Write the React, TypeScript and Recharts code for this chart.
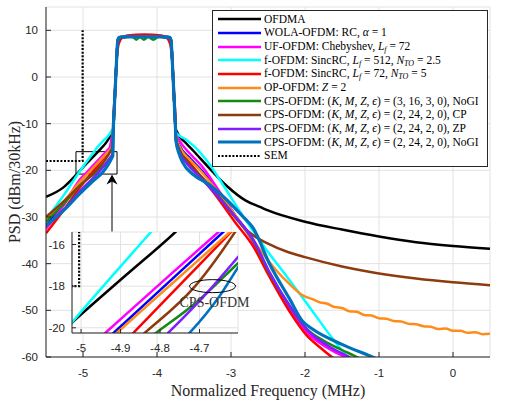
import React from "react";
import {
  LineChart,
  Line,
  XAxis,
  YAxis,
  CartesianGrid,
  Legend,
  ReferenceArea,
  ReferenceLine,
  ReferenceDot,
} from "recharts";

type Pt = [number, number];

// flat top shared by most waveforms
const passband: Pt[] = [
  [-4.59, -11], [-4.575, -6], [-4.56, -1], [-4.545, 4], [-4.53, 7.8], [-4.51, 8.5],
  [-4.4, 8.6], [-4.17, 8.6], [-3.94, 8.6], [-3.83, 8.5], [-3.81, 7.8], [-3.795, 4],
  [-3.78, -1], [-3.765, -6], [-3.75, -11],
];
const passbandRed: Pt[] = [
  [-4.59, -9], [-4.575, -5], [-4.56, 0], [-4.54, 4.5], [-4.52, 7], [-4.48, 8.3],
  [-4.4, 8.9], [-4.17, 9.1], [-3.94, 8.9], [-3.86, 8.3], [-3.82, 7], [-3.8, 4.5],
  [-3.78, 0], [-3.765, -5], [-3.75, -9],
];
const passbandGreen: Pt[] = [
  [-4.59, -11], [-4.575, -6], [-4.56, -1], [-4.545, 4], [-4.53, 7.8], [-4.51, 8.5],
  [-4.4, 8.6], [-4.33, 8.6], [-4.28, 8.0], [-4.23, 8.6], [-4.18, 8.0], [-4.12, 8.6],
  [-4.05, 8.0], [-3.98, 8.6], [-3.83, 8.5], [-3.81, 7.8], [-3.795, 4], [-3.78, -1],
  [-3.765, -6], [-3.75, -11],
];

const ofdmaLeft: Pt[] = [[-5.5, -25.7], [-5.26, -23.6], [-5.1, -21.1], [-5.02, -19.7], [-4.894, -17.6], [-4.761, -15.4], [-4.68, -13.9], [-4.63, -12.6], [-4.6, -11.5]];
const ofdmaRight: Pt[] = [[-3.745, -11.3], [-3.6, -14.3], [-3.51, -15.8], [-3.29, -19.6], [-3.06, -23.3], [-2.8, -26.5], [-2.6, -27.9], [-2.5, -28.6], [-2.0, -31], [-1.5, -32.7], [-1.0, -34.2], [-0.5, -35.4], [0, -36.2], [0.5, -36.8]];

const wolaLeft: Pt[] = [[-5.5, -31.8], [-5.25, -26.8], [-5.05, -22.56], [-4.915, -20.2], [-4.78, -17.84], [-4.64, -15.4], [-4.628, -15.19], [-4.61, -13], [-4.6, -11.8]];
const wolaRight: Pt[] = [[-3.745, -12.5], [-3.7, -14.5], [-3.55, -17.5], [-3.4, -20], [-3.2, -24], [-2.95, -29.5], [-2.7, -35], [-2.48, -42], [-2.21, -49], [-1.98, -54.2], [-1.7, -57.8], [-1.4, -60.3], [-1.3, -61.5]];

const ufLeft: Pt[] = [[-5.5, -32.5], [-5.25, -27.2], [-5.05, -22.14], [-4.936, -20.2], [-4.769, -17.36], [-4.652, -15.4], [-4.64, -15.2], [-4.615, -13.3], [-4.6, -12]];
const ufRight: Pt[] = [[-3.745, -12], [-3.7, -13.5], [-3.55, -16.5], [-3.4, -19], [-3.2, -23.5], [-2.95, -29.5], [-2.7, -35.5], [-2.48, -42.5], [-2.21, -49.5], [-1.98, -54.6], [-1.7, -58], [-1.44, -60.2], [-1.3, -61.5]];

const f512Left: Pt[] = [[-5.5, -30.5], [-5.25, -25.1], [-5.05, -20.35], [-4.823, -15.4], [-4.81, -15.12], [-4.72, -13.6], [-4.64, -12.2], [-4.605, -11.3]];
const f512Right: Pt[] = [[-3.74, -12], [-3.62, -13.3], [-3.5, -14.8], [-3.3, -18.5], [-3.1, -23.3], [-2.9, -28.3], [-2.7, -33], [-2.5, -37.5], [-2.3, -41.6], [-2.0, -48], [-1.62, -56.2], [-1.4, -60.5], [-1.3, -62]];

const f72Left: Pt[] = [[-5.5, -33.5], [-5.25, -28.3], [-5.05, -23.83], [-4.865, -20.2], [-4.74, -17.75], [-4.62, -15.4], [-4.61, -15.2], [-4.6, -13], [-4.594, -11.5]];
const f72Right: Pt[] = [[-3.745, -12.5], [-3.7, -15], [-3.6, -17.5], [-3.45, -20.5], [-3.2, -25.5], [-2.95, -31], [-2.7, -36.3], [-2.48, -42.8], [-2.21, -50.2], [-1.98, -55.3], [-1.8, -57.9], [-1.62, -60.2], [-1.5, -61.5]];

const opLeft: Pt[] = [[-5.5, -30.5], [-5.25, -26.5], [-5.05, -22.62], [-4.907, -20.2], [-4.765, -17.8], [-4.623, -15.4], [-4.613, -15.23], [-4.603, -13.2], [-4.596, -11.8]];
const opRight: Pt[] = [
  [-3.745, -12.5], [-3.7, -14.8], [-3.55, -17.8], [-3.4, -20.3], [-3.2, -24.2], [-2.95, -29.5],
  [-2.7, -35], [-2.5, -39.3], [-2.39, -41.4], [-2.2, -44.5], [-2.03, -46.8], [-1.9, -47.6],
  [-1.8, -48.3], [-1.7, -48.6], [-1.6, -49.3], [-1.5, -49.5], [-1.4, -50.2], [-1.3, -50.3],
  [-1.2, -51], [-1.1, -51.1], [-1, -51.7], [-0.9, -51.8], [-0.8, -52.3], [-0.7, -52.4],
  [-0.6, -52.9], [-0.5, -53], [-0.4, -53.4], [-0.3, -53.5], [-0.2, -54], [-0.1, -53.9],
  [0, -54.4], [0.1, -54.4], [0.2, -54.8], [0.3, -54.7], [0.4, -55.1], [0.5, -55],
];

const cpsNoGi3Left: Pt[] = [[-5.5, -31], [-5.25, -27], [-5.05, -23.4], [-4.807, -20.2], [-4.7, -18.65], [-4.6025, -16.9], [-4.598, -16.82], [-4.594, -13.5]];
const cpsNoGi3Right: Pt[] = [[-3.745, -13], [-3.7, -15.5], [-3.6, -18], [-3.45, -20.8], [-3.2, -25], [-2.95, -29.8], [-2.7, -35], [-2.48, -42], [-2.21, -49], [-1.98, -53.9], [-1.75, -56.5], [-1.5, -58.5], [-1.28, -60.2], [-1.15, -61.5]];

const cpsCpLeft: Pt[] = [[-5.5, -30], [-5.25, -26.5], [-5.05, -23.4], [-4.836, -20.2], [-4.711, -18], [-4.61, -15.4], [-4.603, -15.2], [-4.597, -12.5]];
const cpsCpRight: Pt[] = [[-3.745, -13], [-3.7, -15.5], [-3.58, -18.5], [-3.45, -20.5], [-3.2, -25], [-3.0, -29], [-2.84, -32], [-2.7, -33.9], [-2.5, -35.7], [-2.25, -37.4], [-2.0, -38.6], [-1.5, -40.6], [-1.0, -42.1], [-0.5, -43.2], [0, -44], [0.5, -44.6]];

const cpsZpLeft: Pt[] = [[-5.5, -32], [-5.25, -28.3], [-5.05, -24.6], [-4.777, -20.2], [-4.68, -18.3], [-4.6025, -16.6], [-4.598, -16.5], [-4.594, -13.5]];
const cpsZpRight: Pt[] = [[-3.745, -13.5], [-3.7, -16], [-3.6, -18.5], [-3.45, -21], [-3.2, -25.2], [-2.95, -29.8], [-2.7, -34.8], [-2.48, -41.8], [-2.21, -49], [-1.98, -54], [-1.7, -57.5], [-1.35, -60.5], [-1.25, -61.5]];

const cpsNoGiLeft: Pt[] = [[-5.5, -31.8], [-5.25, -28.4], [-5.05, -25.1], [-4.88, -22.5], [-4.723, -20.2], [-4.65, -18.5], [-4.6025, -17.1], [-4.598, -16.97], [-4.594, -14]];
const cpsNoGiRight: Pt[] = [[-3.745, -13.5], [-3.7, -16.5], [-3.65, -18.4], [-3.51, -20.9], [-3.29, -23.1], [-3.06, -26.3], [-2.84, -29.9], [-2.7, -32.4], [-2.48, -40], [-2.21, -47.5], [-2.03, -52.4], [-1.9, -54], [-1.5, -57.3], [-1.06, -60.2], [-0.95, -61]];

const semMask: Pt[] = [[-5.5, -18], [-5.005, -18], [-5.005, 10]];

const mainXTicks = [-5, -4, -3, -2, -1, 0];
const mainYTicks = [-60, -50, -40, -30, -20, -10, 0, 10];
const insetXTicks = [-5, -4.9, -4.8, -4.7];
const insetYTicks = [-20, -18, -16];

const toRows = (...parts: Pt[][]) => parts.flat().map(([x, y]) => ({ x, y }));

const sans = "Liberation Sans, Arimo, DejaVu Sans, sans-serif";
const serif = "Liberation Serif, Tinos, DejaVu Serif, serif";
const axisColor = "#262626";

const series = [
  { key: "ofdma", color: "#000000", width: 2.5, data: toRows(ofdmaLeft, passband, ofdmaRight), label: <>OFDMA</> },
  { key: "wola", color: "#0000ff", width: 2.5, data: toRows(wolaLeft, passband, wolaRight), label: <>WOLA-OFDM: RC, <i>α</i> = 1</> },
  { key: "uf", color: "#ff00ff", width: 2.5, data: toRows(ufLeft, passband, ufRight), label: <>UF-OFDM: Chebyshev, <i>L</i><sub><i>f</i></sub> = 72</> },
  { key: "f512", color: "#00ffff", width: 2.5, data: toRows(f512Left, passband, f512Right), label: <>f-OFDM: SincRC, <i>L</i><sub><i>f</i></sub> = 512, <i>N</i><sub><i>TO</i></sub> = 2.5</> },
  { key: "f72", color: "#ff0000", width: 2.5, data: toRows(f72Left, passbandRed, f72Right), label: <>f-OFDM: SincRC, <i>L</i><sub><i>f</i></sub> = 72, <i>N</i><sub><i>TO</i></sub> = 5</> },
  { key: "op", color: "#ff8c1a", width: 2.5, data: toRows(opLeft, passband, opRight), label: <>OP-OFDM: <i>Z</i> = 2</> },
  { key: "cps3", color: "#138a13", width: 2.5, data: toRows(cpsNoGi3Left, passbandGreen, cpsNoGi3Right), label: <>CPS-OFDM: (<i>K</i>, <i>M</i>, <i>Z</i>, <i>ϵ</i>) = (3, 16, 3, 0), NoGI</> },
  { key: "cpsCp", color: "#8c3c0c", width: 2.5, data: toRows(cpsCpLeft, passband, cpsCpRight), label: <>CPS-OFDM: (<i>K</i>, <i>M</i>, <i>Z</i>, <i>ϵ</i>) = (2, 24, 2, 0), CP</> },
  { key: "cpsZp", color: "#7f1fff", width: 2.5, data: toRows(cpsZpLeft, passband, cpsZpRight), label: <>CPS-OFDM: (<i>K</i>, <i>M</i>, <i>Z</i>, <i>ϵ</i>) = (2, 24, 2, 0), ZP</> },
  { key: "cpsNoGi", color: "#0072bd", width: 3.2, data: toRows(cpsNoGiLeft, passband, cpsNoGiRight), label: <>CPS-OFDM: (<i>K</i>, <i>M</i>, <i>Z</i>, <i>ϵ</i>) = (2, 24, 2, 0), NoGI</> },
];
const semRows = toRows(semMask);

const XTitle = (props: any) => {
  const vb = props.viewBox || {};
  const cx = (vb.x ?? 46) + (vb.width ?? 444) / 2;
  return (
    <text x={cx} y={396} textAnchor="middle" style={{ fontFamily: serif }} fontSize={16} fill={axisColor}>
      Normalized Frequency (MHz)
    </text>
  );
};

const YTitle = (props: any) => {
  const vb = props.viewBox || {};
  const cy = (vb.y ?? 7) + (vb.height ?? 350) / 2;
  return (
    <text x={14} y={cy} transform={`rotate(-90, 14, ${cy})`} textAnchor="middle" dominantBaseline="central" style={{ fontFamily: serif }} fontSize={16} fill={axisColor}>
      PSD (dBm/30kHz)
    </text>
  );
};

const ArrowShape = (p: any) => {
  const { x1, y1, x2, y2 } = p;
  return (
    <g>
      <line x1={x1} y1={y1} x2={x2} y2={y2 + 6} stroke="#000" strokeWidth={1} />
      <path d={`M${x2},${y2} L${x2 - 5.5},${y2 + 10} L${x2},${y2 + 7} L${x2 + 5.5},${y2 + 10} Z`} fill="#000" />
    </g>
  );
};

const Callout = (p: any) => (
  <g>
    <ellipse cx={p.cx} cy={p.cy} rx={23} ry={6.5} fill="none" stroke="#000" strokeWidth={1} />
    <text x={p.cx + 2} y={p.cy + 21} textAnchor="middle" style={{ fontFamily: serif }} fontSize={14} fill="#333">
      CPS-OFDM
    </text>
  </g>
);

const LegendSample = ({ color, width, dotted }: { color: string; width: number; dotted?: boolean }) => (
  <svg width={43} height={6} style={{ display: "block", flex: "none" }}>
    <line x1={0} y1={3} x2={43} y2={3} stroke={color} strokeWidth={dotted ? 2 : width} strokeDasharray={dotted ? "2 1.6" : undefined} />
  </svg>
);

const renderLegend = () => {
  const rows = [
    ...series.map((s) => ({ key: s.key, color: s.color, width: s.width, dotted: false, label: s.label })),
    { key: "sem", color: "#000", width: 2, dotted: true, label: <>SEM</> },
  ];
  return (
    <div
      style={{
        boxSizing: "border-box",
        width: 276,
        height: 157,
        border: `1px solid ${axisColor}`,
        background: "#fff",
        padding: "1.5px 0 0 5px",
        fontFamily: serif,
        fontSize: 11.5,
        color: "#000",
      }}
    >
      {rows.map((r) => (
        <div key={r.key} style={{ display: "flex", alignItems: "center", height: 13.67, whiteSpace: "nowrap" }}>
          <LegendSample color={r.color} width={r.width} dotted={r.dotted} />
          <span style={{ marginLeft: 3, lineHeight: "13px" }}>{r.label}</span>
        </div>
      ))}
    </div>
  );
};

const subStyle = `sub { font-size: 8px; line-height: 0; vertical-align: -2px; }`;

export default function App() {
  const tickStyle = { fill: axisColor, fontSize: 11.5, fontFamily: sans };
  return (
    <div style={{ position: "absolute", left: 0, top: 0, width: 510, height: 400, background: "#fff" }}>
      <style>{subStyle}</style>
      <LineChart width={510} height={400} margin={{ top: 7, right: 20, bottom: 0, left: 0 }}>
        <CartesianGrid stroke="#e2e2e2" />
        <XAxis
          dataKey="x"
          type="number"
          domain={[-5.5, 0.5]}
          ticks={mainXTicks}
          allowDataOverflow
          height={43}
          tickSize={-5}
          tickMargin={17}
          stroke={axisColor}
          tick={tickStyle}
          label={<XTitle />}
        />
        <XAxis xAxisId="top" orientation="top" type="number" domain={[-5.5, 0.5]} ticks={mainXTicks} allowDataOverflow height={0} tickSize={-5} tick={false} stroke={axisColor} />
        <YAxis
          type="number"
          domain={[-60, 15]}
          ticks={mainYTicks}
          allowDataOverflow
          width={46}
          tickSize={-5}
          tickMargin={13}
          stroke={axisColor}
          tick={tickStyle}
          label={<YTitle />}
        />
        <YAxis yAxisId="right" orientation="right" type="number" domain={[-60, 15]} ticks={mainYTicks} allowDataOverflow width={0} tickSize={-5} tick={false} stroke={axisColor} />
        {series.map((s) => (
          <Line key={s.key} data={s.data} dataKey="y" type="monotone" stroke={s.color} strokeWidth={s.width} dot={false} activeDot={false} isAnimationActive={false} />
        ))}
        <Line data={semRows} dataKey="y" type="linear" stroke="#000" strokeWidth={2.2} strokeDasharray="2 1.6" dot={false} activeDot={false} isAnimationActive={false} />
        <ReferenceArea x1={-5.095} x2={-4.54} y1={-20.8} y2={-16.0} fill="none" fillOpacity={0} stroke="#000" strokeWidth={1} />
        <ReferenceLine segment={[{ x: -4.608, y: -33.2 }, { x: -4.608, y: -20.9 }]} shape={ArrowShape} />
        <Legend layout="vertical" align="center" verticalAlign="middle" content={renderLegend} wrapperStyle={{ left: 212, top: 10, width: 276, height: 157 }} />
      </LineChart>

      <div style={{ position: "absolute", left: 44, top: 228 }}>
        <LineChart width={220} height={132} margin={{ top: 4, right: 26, bottom: 0, left: 0 }}>
          <CartesianGrid stroke="#e2e2e2" fill="#fff" />
          <XAxis dataKey="x" type="number" domain={[-5.023, -4.6025]} ticks={insetXTicks} allowDataOverflow height={27} tickSize={-4} tickMargin={15} stroke={axisColor} tick={tickStyle} />
          <XAxis xAxisId="top" orientation="top" type="number" domain={[-5.023, -4.6025]} ticks={insetXTicks} allowDataOverflow height={0} tickSize={-4} tick={false} stroke={axisColor} />
          <YAxis type="number" domain={[-20.25, -15.4]} ticks={insetYTicks} allowDataOverflow width={28} tickSize={-4} tickMargin={11} stroke={axisColor} tick={tickStyle} />
          <YAxis yAxisId="right" orientation="right" type="number" domain={[-20.25, -15.4]} ticks={insetYTicks} allowDataOverflow width={0} tickSize={-4} tick={false} stroke={axisColor} />
          {series.map((s) => (
            <Line key={s.key} data={s.data} dataKey="y" type="monotone" stroke={s.color} strokeWidth={2.5} dot={false} activeDot={false} isAnimationActive={false} />
          ))}
          <Line data={semRows} dataKey="y" type="linear" stroke="#000" strokeWidth={2.2} strokeDasharray="2 1.6" dot={false} activeDot={false} isAnimationActive={false} />
          <ReferenceDot x={-4.667} y={-18} ifOverflow="visible" shape={Callout} />
        </LineChart>
      </div>
    </div>
  );
}
